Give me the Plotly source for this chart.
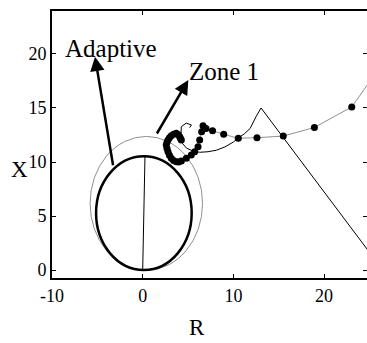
import plotly.graph_objects as go

# ---- data ----
# thin black impedance trajectory
traj_R = [26.2, 13.05, 12.5, 11.84, 11.2, 10.73, 10.0, 9.07, 8.16, 7.2, 6.3, 5.6, 4.85, 4.4, 4.2, 4.2, 4.26, 4.8, 5.37, 5.18]
traj_X = [0.3, 15.0, 14.2, 13.1, 12.6, 12.34, 11.85, 11.4, 11.1, 10.95, 10.9, 11.0, 11.27, 11.7, 12.2, 12.8, 13.27, 13.6, 13.43, 13.18]

# dotted (gray line + black dots) trajectory
dot_R = [26.0, 23.05, 18.93, 15.5, 12.6, 10.54, 8.93, 7.7, 6.98, 6.65, 6.5, 6.28, 6.1, 5.73, 5.36, 4.81, 4.26,
         3.95, 3.7, 3.4, 3.15, 2.95, 2.79, 2.68, 2.6, 2.68, 2.79, 2.95, 3.15, 3.4, 3.7, 3.9, 4.08, 4.15, 4.26]
dot_X = [18.6, 15.1, 13.2, 12.4, 12.25, 12.2, 12.56, 12.9, 13.1, 13.35, 12.8, 12.04, 11.42, 10.95, 10.65, 10.34, 10.09,
         10.0, 10.03, 10.15, 10.34, 10.62, 10.95, 11.25, 11.57, 11.82, 12.04, 12.25, 12.44, 12.58, 12.66, 12.55, 12.34, 12.2, 12.04]

# line impedance
line_R = [0.0, 0.07, 0.25]
line_X = [0.0, 4.3, 10.5]

# characteristics (circles): centre and radius
adaptive_center = (0.13, 5.27)
adaptive_radius = 5.27
zone1_center = (0.4, 6.17)
zone1_radius = 6.2

# labels / arrows (tail -> tip)
adaptive_arrow = [(-3.24, 9.56), (-5.26, 19.75)]
zone1_arrow = [(1.47, 12.5), (5.03, 17.6)]

x_ticks = [-10, 0, 10, 20]
x_ticktext = ["-10", "0", "10", "20"]
y_ticks = [0, 5, 10, 15, 20]
y_ticktext = ["0", "5", "10", "15", "20"]

SERIF = "Liberation Serif"

fig = go.Figure()

fig.add_trace(go.Scatter(x=line_R, y=line_X, mode="lines",
                         line=dict(color="black", width=1), showlegend=False))
fig.add_trace(go.Scatter(x=traj_R, y=traj_X, mode="lines",
                         line=dict(color="black", width=1), showlegend=False))
fig.add_trace(go.Scatter(x=dot_R, y=dot_X, mode="lines+markers",
                         line=dict(color="#8f8f8f", width=1),
                         marker=dict(color="black", size=7, line=dict(width=0)),
                         showlegend=False))

shapes = []
cx, cy = zone1_center
shapes.append(dict(type="circle", xref="x", yref="y",
                   x0=cx - zone1_radius, x1=cx + zone1_radius,
                   y0=cy - zone1_radius, y1=cy + zone1_radius,
                   line=dict(color="#8f8f8f", width=1), layer="below"))
cx, cy = adaptive_center
shapes.append(dict(type="circle", xref="x", yref="y",
                   x0=cx - adaptive_radius, x1=cx + adaptive_radius,
                   y0=cy - adaptive_radius, y1=cy + adaptive_radius,
                   line=dict(color="black", width=2.5), layer="below"))

annotations = []
for (tail, tip) in [adaptive_arrow, zone1_arrow]:
    annotations.append(dict(x=tip[0], y=tip[1], ax=tail[0], ay=tail[1],
                            xref="x", yref="y", axref="x", ayref="y",
                            text="", showarrow=True, arrowhead=2,
                            arrowsize=1.15, arrowwidth=2.5, arrowcolor="black"))

annotations.append(dict(x=0.035, y=0.918, xref="paper", yref="paper", text="Adaptive",
                        showarrow=False,
                        font=dict(family=SERIF, size=25)))
annotations.append(dict(x=0.546, y=0.831, xref="paper", yref="paper", text="Zone 1",
                        showarrow=False,
                        font=dict(family=SERIF, size=25)))
annotations.append(dict(x=0.459, y=-0.24, xref="paper", yref="paper", text="R",
                        showarrow=False,
                        font=dict(family=SERIF, size=23)))
annotations.append(dict(x=-0.136, y=0.405, xref="paper", yref="paper", text="X",
                        showarrow=False,
                        font=dict(family=SERIF, size=23)))

axis_common = dict(showgrid=False, zeroline=False, ticks="inside", ticklen=4, tickwidth=1,
                   tickcolor="black", showline=True, linewidth=2, linecolor="black",
                   mirror="ticks")

fig.update_layout(
    template="none",
    width=367, height=343,
    margin=dict(l=52, r=0, t=11, b=65),
    paper_bgcolor="white", plot_bgcolor="white",
    font=dict(family=SERIF, color="black"),
    xaxis=dict(range=[-10, 24.73], tickvals=x_ticks, ticktext=x_ticktext,
               tickfont=dict(family=SERIF, size=18), **axis_common),
    yaxis=dict(range=[-0.74, 23.98], tickvals=y_ticks, ticktext=y_ticktext,
               tickfont=dict(family=SERIF, size=18), **axis_common),
    shapes=shapes, annotations=annotations, showlegend=False,
)

fig.write_html("out.html")
